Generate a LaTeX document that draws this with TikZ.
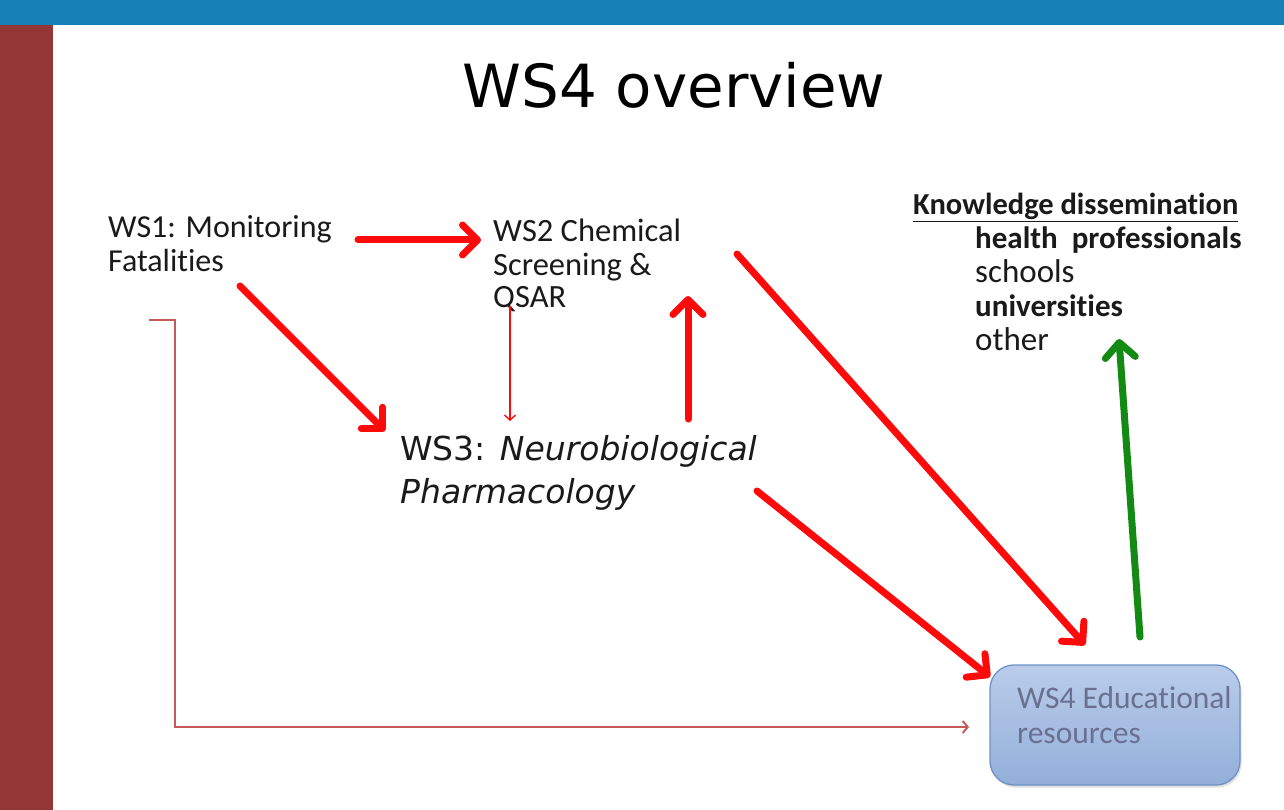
\documentclass[tikz,border=0pt]{standalone}
\usepackage{fontspec}
\setmainfont{Carlito}[Ligatures=CommonOff]
\newfontfamily\verd{DejaVu Sans}
\usetikzlibrary{arrows.meta,shadows}
\definecolor{topbar}{HTML}{1780B6}
\definecolor{sidebar}{HTML}{943634}
\definecolor{arrred}{HTML}{FF0A0A}
\definecolor{arrgreen}{HTML}{138A13}
\definecolor{linkbrown}{HTML}{C55A57}
\definecolor{boxtop}{HTML}{BACCEA}
\definecolor{boxbot}{HTML}{92AFD9}
\definecolor{boxline}{HTML}{6E92C8}
\definecolor{boxtext}{HTML}{6A7090}
\definecolor{txt}{HTML}{1A1A1A}
\tikzset{
  lbl/.style={anchor=base west, inner sep=0pt, text=txt},
  bigarrow/.style={draw=arrred, line width=7pt, line cap=round, line join=round,
    -{Straight Barb[length=15pt,width=30pt,line cap=round,line join=round]}},
  greenarrow/.style={bigarrow, draw=arrgreen},
  thinarrow/.style={draw=arrred, line width=1.4pt, -{Straight Barb[length=5pt,width=11pt]}},
  linkarrow/.style={draw=linkbrown, line width=2pt, -{Straight Barb[length=5pt,width=12pt]}},
  eduBox/.style={draw=boxline, line width=1.3pt, rounded corners=24pt,
    top color=boxtop, bottom color=boxbot, minimum width=250pt, minimum height=120pt,
    drop shadow={shadow xshift=1.5pt, shadow yshift=-2.5pt, opacity=0.25}}
}
\begin{document}
\begin{tikzpicture}[x=1pt,y=-1pt]
\useasboundingbox (0,0) rectangle (1284,810);
\fill[white] (0,0) rectangle (1284,810);
\fill[topbar] (0,0) rectangle (1284,25);
\fill[sidebar] (0,25) rectangle (53,810);

\node[anchor=base, inner sep=0pt, text=black] (title) at (674,108)
  {\verd\fontsize{59.5}{62}\selectfont WS4 overview};

\node[lbl] (ws1) at (108,238) {\fontsize{32}{34}\selectfont
  \begin{tabular}[t]{@{}l@{}}WS1: Monitoring\\ Fatalities\end{tabular}};

\node[lbl] (ws2) at (493,242) {\fontsize{32.5}{33}\selectfont
  \begin{tabular}[t]{@{}l@{}}WS2 Chemical\\ Screening \&\\ QSAR\end{tabular}};

\node[lbl] (ws3) at (400,460) {\verd\fontsize{33}{43}\selectfont
  \begin{tabular}[t]{@{}l@{}}WS3: \textit{Neurobiological}\\ \textit{Pharmacology}\end{tabular}};

\node[lbl] (kd) at (913,215) {\fontsize{30.5}{33}\selectfont\bfseries\underline{Knowledge dissemination}};

\node[lbl] (kditems) at (975,248) {\fontsize{31}{34}\selectfont
  \begin{tabular}[t]{@{}l@{}}\textbf{health\ \ professionals}\\ {\fontsize{33}{34}\selectfont schools}\\ \textbf{universities}\\ {\fontsize{33}{34}\selectfont other}\end{tabular}};

\node[eduBox] (ws4) at (1115,725) {};
\node[lbl, text=boxtext] (ws4t) at (1017,708) {\fontsize{31.5}{35}\selectfont
  \begin{tabular}[t]{@{}l@{}}WS4 Educational\\ resources\end{tabular}};

% connector end points
\coordinate (a1s) at (358,240);  \coordinate (a1e) at (481,240);
\coordinate (a2s) at (240,286);  \coordinate (a2e) at (385,431);
\coordinate (a3s) at (510,306);  \coordinate (a3e) at (510,421);
\coordinate (a4s) at (688,419);  \coordinate (a4e) at (688,296);
\coordinate (a5s) at (737,254);  \coordinate (a5e) at (1085,645);
\coordinate (a6s) at (757,491);  \coordinate (a6e) at (990,677);
\coordinate (a7s) at (1140,637); \coordinate (a7e) at (1119,339);
\coordinate (l1) at (149,320); \coordinate (l2) at (175,320);
\coordinate (l3) at (175,727); \coordinate (l4) at (969,727);

\draw[bigarrow] (a1s) -- (a1e);
\draw[bigarrow] (a2s) -- (a2e);
\draw[thinarrow] (a3s) -- (a3e);
\draw[bigarrow] (a4s) -- (a4e);
\draw[bigarrow] (a5s) -- (a5e);
\draw[bigarrow] (a6s) -- (a6e);
\draw[greenarrow] (a7s) -- (a7e);
\draw[linkarrow] (l1) -- (l2) -- (l3) -- (l4);
\end{tikzpicture}
\end{document}
